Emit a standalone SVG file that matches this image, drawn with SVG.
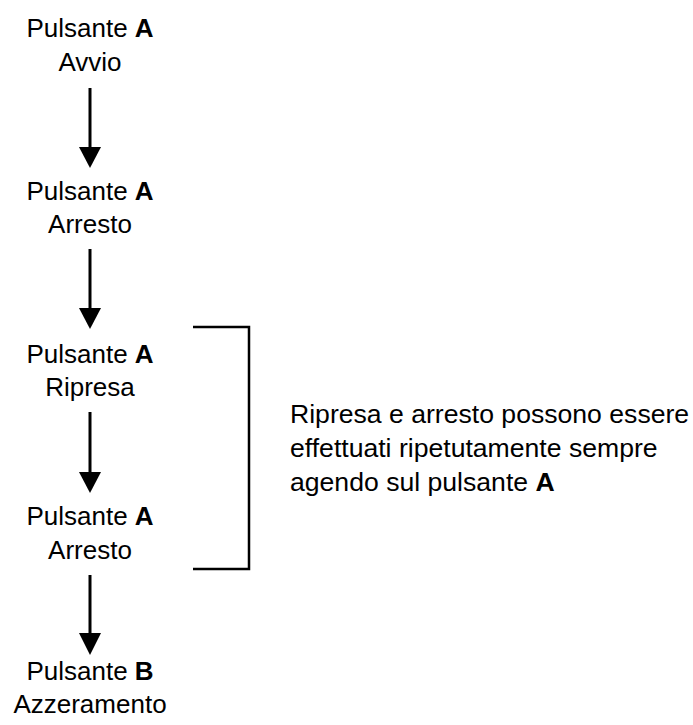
<svg xmlns="http://www.w3.org/2000/svg" width="693" height="725" viewBox="0 0 693 725">
<style>
  text { font-family: "Liberation Sans", Arial, Helvetica, sans-serif; font-size: 26px; fill: #000; }
  .c { text-anchor: middle; }
  .b { font-weight: bold; }
  .n { font-size: 26.6px; }
  .ln { stroke: #000; stroke-width: 3; fill: none; }
  .br { stroke: #000; stroke-width: 2.5; fill: none; }
  .hd { fill: #000; }
</style>
<rect width="693" height="725" fill="#fff"/>
<g id="n1">
  <text class="c" x="90" y="37">Pulsante <tspan class="b">A</tspan></text>
  <text class="c" x="90" y="71">Avvio</text>
</g>
<g id="n2">
  <text class="c" x="90" y="200">Pulsante <tspan class="b">A</tspan></text>
  <text class="c" x="90" y="233">Arresto</text>
</g>
<g id="n3">
  <text class="c" x="90" y="363">Pulsante <tspan class="b">A</tspan></text>
  <text class="c" x="90" y="396">Ripresa</text>
</g>
<g id="n4">
  <text class="c" x="90" y="525">Pulsante <tspan class="b">A</tspan></text>
  <text class="c" x="90" y="559">Arresto</text>
</g>
<g id="n5">
  <text class="c" x="90" y="680">Pulsante <tspan class="b">B</tspan></text>
  <text class="c" x="90" y="713">Azzeramento</text>
</g>
<g id="note">
  <text class="n" x="290" y="423">Ripresa e arresto possono essere</text>
  <text class="n" x="290" y="457">effettuati ripetutamente sempre</text>
  <text class="n" x="290" y="491">agendo sul pulsante <tspan class="b">A</tspan></text>
</g>
<g id="connectors">
  <path class="ln" d="M90,88 V150" />
  <path class="hd" d="M79,147 L101,147 L90,168 Z"/>
  <path class="ln" d="M90,249 V311" />
  <path class="hd" d="M79,308 L101,308 L90,329 Z"/>
  <path class="ln" d="M90,412 V475" />
  <path class="hd" d="M79,472 L101,472 L90,493 Z"/>
  <path class="ln" d="M90,575 V636" />
  <path class="hd" d="M79,633 L101,633 L90,655 Z"/>
  <path class="br" d="M193,327 H249 V569 H193" />
</g>
</svg>
